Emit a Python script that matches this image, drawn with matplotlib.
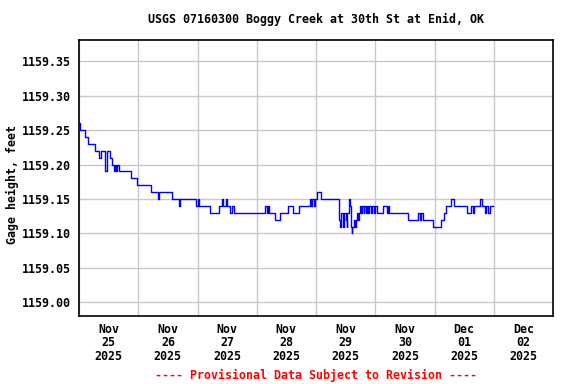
import pandas as pd
import matplotlib
matplotlib.use("Agg")
import matplotlib.pyplot as plt
import matplotlib.dates as mdates

# gage height readings as (hours after Nov 25 00:00, feet)
hours = [0, 0.5, 2.5, 3.5, 6.5, 8.25, 8.75, 10.5, 11.25, 12.5, 13.25, 14, 14.5,
         15, 15.5, 16, 21, 23.5, 29, 32, 32.25, 37.5, 40.5, 41, 47.5, 48, 48.75,
         53, 56.75, 57.75, 58.5, 59.5, 59.75, 61.25, 62, 62.75, 63.5, 75.5, 76,
         76.5, 77, 79.25, 81.5, 84.75, 86.5, 89, 93.5, 94, 94.5, 95, 95.5, 96.5,
         98, 105.5, 105.75, 106.25, 106.75, 107.25, 108, 108.5, 108.75, 109.25,
         109.75, 110, 110.5, 110.75, 111.25, 111.75, 112.25, 112.5, 113, 113.5,
         114, 114.25, 114.75, 115.25, 115.5, 116.25, 116.5, 117, 117.5, 118.25,
         118.75, 119.5, 120, 120.75, 123.25, 124.75, 125.25, 125.75, 133.25,
         137.5, 138, 138.5, 139.5, 143.5, 146.5, 147.75, 148.75, 150.5, 151.75,
         157, 158.75, 159.5, 160, 162.25, 163.25, 164.5, 165, 165.5, 166.5, 167.5]
gage = [1159.26, 1159.25, 1159.24, 1159.23, 1159.22, 1159.21, 1159.22, 1159.19,
        1159.22, 1159.21, 1159.20, 1159.19, 1159.20, 1159.19, 1159.20, 1159.19,
        1159.18, 1159.17, 1159.16, 1159.15, 1159.16, 1159.15, 1159.14, 1159.15,
        1159.14, 1159.15, 1159.14, 1159.13, 1159.14, 1159.15, 1159.14, 1159.15,
        1159.14, 1159.13, 1159.14, 1159.13, 1159.13, 1159.14, 1159.13, 1159.14,
        1159.13, 1159.12, 1159.13, 1159.14, 1159.13, 1159.14, 1159.15, 1159.14,
        1159.15, 1159.14, 1159.15, 1159.16, 1159.15, 1159.12, 1159.11, 1159.13,
        1159.11, 1159.13, 1159.12, 1159.11, 1159.13, 1159.15, 1159.14, 1159.11,
        1159.10, 1159.11, 1159.12, 1159.11, 1159.12, 1159.13, 1159.12, 1159.13,
        1159.14, 1159.13, 1159.14, 1159.13, 1159.14, 1159.13, 1159.14, 1159.13,
        1159.14, 1159.13, 1159.14, 1159.13, 1159.14, 1159.13, 1159.14, 1159.13,
        1159.14, 1159.13, 1159.12, 1159.13, 1159.12, 1159.13, 1159.12, 1159.11,
        1159.12, 1159.13, 1159.14, 1159.15, 1159.14, 1159.13, 1159.14, 1159.13,
        1159.14, 1159.15, 1159.14, 1159.13, 1159.14, 1159.13, 1159.14, 1159.14]

start = pd.Timestamp("2025-11-25")
times = start + pd.to_timedelta(hours, unit="h")

yticks = [1159.00, 1159.05, 1159.10, 1159.15, 1159.20, 1159.25, 1159.30, 1159.35]

font = "DejaVu Sans Mono"
fs = 8.4

fig = plt.figure(figsize=(5.76, 3.84), dpi=100)
ax = fig.add_axes([79 / 576, 1 - 316 / 384, 474 / 576, 276 / 384])

ax.plot(times, gage, color="#0000ff", lw=1.0, drawstyle="steps-post")

ax.set_xlim(start, start + pd.Timedelta(days=8))
ax.set_ylim(1158.98, 1159.381)

ax.xaxis.set_major_locator(mdates.DayLocator())
ax.xaxis.set_major_formatter(plt.NullFormatter())
ax.xaxis.set_minor_locator(mdates.HourLocator(byhour=[12]))
ax.xaxis.set_minor_formatter(mdates.DateFormatter("%b\n%d\n%Y"))
ax.set_yticks(yticks)
ax.set_yticklabels(["%.2f" % v for v in yticks])

ax.grid(True, which="major", color="#c8c8c8", lw=1)
ax.set_axisbelow(True)
ax.tick_params(which="both", length=0)
ax.tick_params(axis="x", which="minor", pad=5)
ax.tick_params(axis="y", pad=5.5)
for lab in ax.get_xticklabels(minor=True) + ax.get_yticklabels():
    lab.set_fontfamily(font)
    lab.set_fontweight("bold")
    lab.set_fontsize(fs)
    lab.set_linespacing(1.05)
for s in ax.spines.values():
    s.set_linewidth(1.2)

fig.text(12 / 576, 1 - 184 / 384, "Gage height, feet", rotation=90,
         ha="center", va="center", fontfamily=font, fontweight="bold", fontsize=fs)
fig.text(316 / 576, 1 - 19 / 384, "USGS 07160300 Boggy Creek at 30th St at Enid, OK",
         ha="center", va="center", fontfamily=font, fontweight="bold", fontsize=fs)
fig.text(316 / 576, 1 - 375 / 384, "---- Provisional Data Subject to Revision ----",
         ha="center", va="center", fontfamily=font, fontweight="bold", fontsize=fs,
         color="red")

fig.savefig("out.png", dpi=100)
